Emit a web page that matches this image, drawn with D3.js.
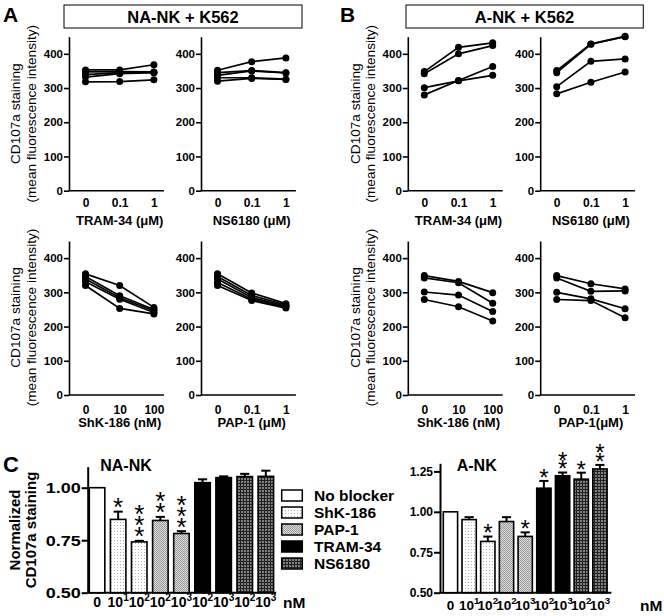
<!DOCTYPE html>
<html><head><meta charset="utf-8">
<script src="https://cdn.jsdelivr.net/npm/d3@7"></script>
<style>body{margin:0;background:#fff} svg{display:block} text{font-family:"Liberation Sans",Arial,sans-serif}</style>
</head><body>
<svg id="c" width="664" height="616"></svg>
<script>
// ---------- data ----------
const doseLabels = ["0","0.1","1"];
const shkLabels = ["0","10","100"];
// Panel A (NA-NK + K562), one array per donor
const naTram = [[353,353,368],[347,348,347],[339,345,346],[332,342,345],[318,319,324]];
const naNs   = [[352,377,388],[345,351,345],[337,350,344],[330,330,326],[320,328,325]];
const naShk  = [[354,320,256],[346,290,250],[339,284,246],[331,280,241],[320,253,237]];
const naPap  = [[354,298,267],[346,291,263],[339,285,260],[329,280,257],[320,276,254]];
// Panel B (A-NK + K562)
const aTram = [[348,419,432],[342,400,424],[301,321,337],[280,322,363]];
const aNs   = [[351,429,451],[345,428,450],[304,378,385],[283,317,347]];
const aShk  = [[349,332,299],[342,328,268],[301,292,244],[279,258,216]];
const aPap  = [[349,325,310],[342,303,304],[300,281,252],[279,276,226]];
// Panel C
const barGroups = ["No blocker","ShK-186","ShK-186","PAP-1","PAP-1","TRAM-34","TRAM-34","NS6180","NS6180"];
const barExps   = ["","1","2","2","3","2","3","2","3"];
const naMeans = [1.00,0.849,0.742,0.844,0.782,1.024,1.048,1.053,1.054];
const naErr   = [0,0.037,0.005,0.017,0.011,0.016,0.006,0.013,0.027];
const naStars = [0,1,3,2,3,0,0,0,0];
const aMeans  = [1.00,0.952,0.817,0.940,0.848,1.146,1.223,1.202,1.265];
const aErr    = [0,0.015,0.030,0.027,0.025,0.045,0.020,0.040,0.025];
const aStars  = [0,0,1,0,1,1,2,1,2];
const legendItems = ["No blocker","ShK-186","PAP-1","TRAM-34","NS6180"];
const yTicksLine = [0,100,200,300,400];

// ---------- drawing ----------
const svg = d3.select("#c");
const defs = svg.append("defs");
function pat(id, size, bg, draw){
  const p = defs.append("pattern").attr("id",id).attr("width",size).attr("height",size).attr("patternUnits","userSpaceOnUse");
  p.append("rect").attr("width",size).attr("height",size).attr("fill",bg);
  draw(p);
}
pat("pShk",3,"#fff",p=>p.append("rect").attr("width",1).attr("height",1).attr("fill","#b0b0b0"));
pat("pPap",2,"#dcdcdc",p=>{p.append("rect").attr("width",1).attr("height",1).attr("fill","#9a9a9a");p.append("rect").attr("x",1).attr("y",1).attr("width",1).attr("height",1).attr("fill","#9a9a9a");});
pat("pNs",3,"#808080",p=>{p.append("rect").attr("width",3).attr("height",1).attr("fill","#222");p.append("rect").attr("width",1).attr("height",3).attr("fill","#222");});
const fills = {"No blocker":"#fff","ShK-186":"url(#pShk)","PAP-1":"url(#pPap)","TRAM-34":"#000","NS6180":"url(#pNs)"};

function txt(x,y,s,o={}){
  const t = svg.append("text").attr("x",x).attr("y",y).text(s)
    .attr("font-size",o.fs||12).attr("font-weight",o.fw||"bold")
    .attr("text-anchor",o.anchor||"start").attr("fill","#000");
  return t;
}

// panel letters and titles
txt(3,21.7,"A",{fs:21});
txt(340,21.7,"B",{fs:21});
txt(3,472,"C",{fs:22});
svg.append("rect").attr("x",64).attr("y",5).attr("width",238).attr("height",23).attr("fill","none").attr("stroke","#000").attr("stroke-width",1);
svg.append("rect").attr("x",406).attr("y",5).attr("width",237.3).attr("height",23).attr("fill","none").attr("stroke","#000").attr("stroke-width",1);
txt(183,22.5,"NA-NK + K562",{fs:16.5,anchor:"middle"});
txt(524.5,22.5,"A-NK + K562",{fs:16.5,anchor:"middle"});

function yLabel(cx, cy, lines, fs, fw, gap){
  const g = svg.append("g").attr("transform",`translate(${cx},${cy}) rotate(-90)`);
  lines.forEach((l,i)=>{
    g.append("text").attr("x",0).attr("y",i*gap).attr("text-anchor","middle")
      .attr("dominant-baseline","central").attr("font-size",fs).attr("font-weight",fw).text(l);
  });
}

function linePanel(o){
  const y = d3.scaleLinear().domain([0,450]).range([o.yb,o.yt]);
  const x = d3.scalePoint().domain(o.labels).range([o.x0,o.x0+68.4]);
  const ax = o.x0-16.5, xe = o.x0+68.4+10;
  const g = svg.append("g");
  const ga = g.append("g").attr("transform",`translate(${ax},0)`)
    .call(d3.axisLeft(y).tickValues(yTicksLine).tickSize(5).tickPadding(1).tickSizeOuter(0).tickFormat(d3.format("d")));
  ga.select(".domain").attr("stroke","#000").attr("stroke-width",1.6);
  ga.selectAll(".tick line").attr("stroke","#000").attr("stroke-width",1.6);
  ga.selectAll(".tick text").attr("font-size",11.5).attr("font-weight","bold").attr("fill","#000")
    .attr("font-family",'"Liberation Sans",Arial,sans-serif');
  g.append("line").attr("x1",ax).attr("x2",xe).attr("y1",o.yb).attr("y2",o.yb).attr("stroke","#000").attr("stroke-width",1.6);
  const gx = g.append("g").attr("transform",`translate(0,${o.yb})`)
    .call(d3.axisBottom(x).tickSize(0).tickPadding(o.pad));
  gx.select(".domain").remove();
  gx.selectAll(".tick text").attr("font-size",12).attr("font-weight","bold").attr("fill","#000")
    .attr("font-family",'"Liberation Sans",Arial,sans-serif');
  txt(x(o.labels[1]),o.titleY,o.title,{fs:13,anchor:"middle"});
  const line = d3.line().x((d,i)=>x(o.labels[i])).y(d=>y(d));
  o.data.forEach(s=>{
    g.append("path").attr("d",line(s)).attr("fill","none").attr("stroke","#000").attr("stroke-width",1.7);
    s.forEach((v,i)=>g.append("circle").attr("cx",x(o.labels[i])).attr("cy",y(v)).attr("r",3.5).attr("fill","#000"));
  });
}

const topRow = {yb:190.7, yt:36.7, pad:7.5, titleY:225};
const botRow = {yb:395, yt:241, pad:10.5, titleY:427};
linePanel({...topRow, x0:85.5, labels:doseLabels, data:naTram, title:"TRAM-34 (μM)"});
linePanel({...topRow, x0:217.5, labels:doseLabels, data:naNs, title:"NS6180 (μM)"});
linePanel({...botRow, x0:85.5, labels:shkLabels, data:naShk, title:"ShK-186 (nM)"});
linePanel({...botRow, x0:217.5, labels:doseLabels, data:naPap, title:"PAP-1 (μM)"});
linePanel({...topRow, x0:424.3, labels:doseLabels, data:aTram, title:"TRAM-34 (μM)"});
linePanel({...topRow, x0:556.7, labels:doseLabels, data:aNs, title:"NS6180 (μM)"});
linePanel({...botRow, x0:424.3, labels:shkLabels, data:aShk, title:"ShK-186 (nM)"});
linePanel({...botRow, x0:556.7, labels:doseLabels, data:aPap, title:"PAP-1(μM)"});

const ylab = ["CD107a staining","(mean fluorescence intensity)"];
yLabel(15.8,113.7,ylab,13.6,"normal",15.9);
yLabel(15.8,317.5,ylab,13.6,"normal",15.9);
yLabel(355,113.7,ylab,13.6,"normal",15.5);
yLabel(355,317.5,ylab,13.6,"normal",15.5);

function barPanel(o){
  const y = d3.scaleLinear().domain(o.domain).range([592.7,o.yt]);
  const x = d3.scaleBand().domain(d3.range(9)).range(o.xr).paddingInner(o.pi).paddingOuter(o.po);
  const g = svg.append("g");
  const ga = g.append("g").attr("transform",`translate(${o.xr[0]},0)`)
    .call(d3.axisLeft(y).tickValues(o.ticks).tickSize(6).tickPadding(0).tickSizeOuter(0).tickFormat(d3.format(".2f")));
  ga.select(".domain").attr("stroke","#000").attr("stroke-width",2);
  ga.selectAll(".tick line").attr("stroke","#000").attr("stroke-width",2);
  ga.selectAll(".tick text").attr("font-size",o.tfs).attr("font-weight","bold").attr("fill","#000")
    .attr("font-family",'"Liberation Sans",Arial,sans-serif')
    .attr("transform",`scale(${o.sx},1)`).attr("x",-7/o.sx);
  g.append("line").attr("x1",o.xr[0]).attr("x2",o.xr[1]+1).attr("y1",592.7).attr("y2",592.7).attr("stroke","#000").attr("stroke-width",2);
  const bw = x.bandwidth();
  o.means.forEach((m,i)=>{
    const x0 = x(i), cx = x0+bw/2;
    if(o.err[i]>0){
      const cy = y(m+o.err[i]);
      g.append("line").attr("x1",cx).attr("x2",cx).attr("y1",y(m)).attr("y2",cy).attr("stroke","#000").attr("stroke-width",2);
      g.append("line").attr("x1",cx-4.6).attr("x2",cx+4.6).attr("y1",cy).attr("y2",cy).attr("stroke","#000").attr("stroke-width",2);
    }
    g.append("rect").attr("x",x0).attr("y",y(m)).attr("width",bw).attr("height",592.7-y(m))
      .attr("fill",fills[barGroups[i]]).attr("stroke","#000").attr("stroke-width",1.6);
    const capY = y(m+o.err[i]);
    if(o.stars[i]>0){
      // one text element per stack of asterisks
      const st = svg.append("text").attr("text-anchor","middle").attr("font-size",o.sfs)
        .attr("font-weight","normal").attr("fill","#000");
      for(let k=0;k<o.stars[i];k++){
        st.append("tspan").attr("x",cx)
          .attr("y",capY - o.soff - k*o.ssp + 0.58*o.sfs).text("*");
      }
    }
    // x tick label
    const t = svg.append("text").attr("x",cx).attr("y",o.lblY).attr("text-anchor","middle")
      .attr("font-size",o.xfs).attr("font-weight","bold");
    if(barExps[i]===""){ t.text("0"); }
    else {
      t.append("tspan").text("10");
      t.append("tspan").attr("font-size",o.xfs*0.72).attr("dy",-o.xfs*0.42).text(barExps[i]);
    }
  });
  txt(o.nmX,o.lblY+0.5,"nM",{fs:15.5});
  txt(o.titleX,470.5,o.title,{fs:16,anchor:"middle"});
}

barPanel({domain:[0.5,1.1], yt:466.7, xr:[87.7,275.2], pi:0.265, po:0.076, ticks:[0.5,0.75,1.0],
  tfs:15, sx:1.2, means:naMeans, err:naErr, stars:naStars, soff:10.5, ssp:11, sfs:26,
  lblY:607, xfs:14, nmX:283, titleX:126, title:"NA-NK"});
barPanel({domain:[0.5,1.3], yt:463.3, xr:[440,610.4], pi:0.235, po:0.177, ticks:[0.5,0.75,1.0,1.25],
  tfs:12, sx:1, means:aMeans, err:aErr, stars:aStars, soff:9, ssp:8.5, sfs:24,
  lblY:610, xfs:13.5, nmX:640, titleX:476.7, title:"A-NK"});

yLabel(14,530,["Normalized","CD107a staining"],15,"bold",16);

// legend
legendItems.forEach((n,i)=>{
  svg.append("rect").attr("x",281.7).attr("y",490+17*i).attr("width",20.6).attr("height",11)
    .attr("fill",fills[n]).attr("stroke","#000").attr("stroke-width",1.5);
  txt(314,495.5+17*i+5.4,n,{fs:15.5});
});
</script>
</body></html>
